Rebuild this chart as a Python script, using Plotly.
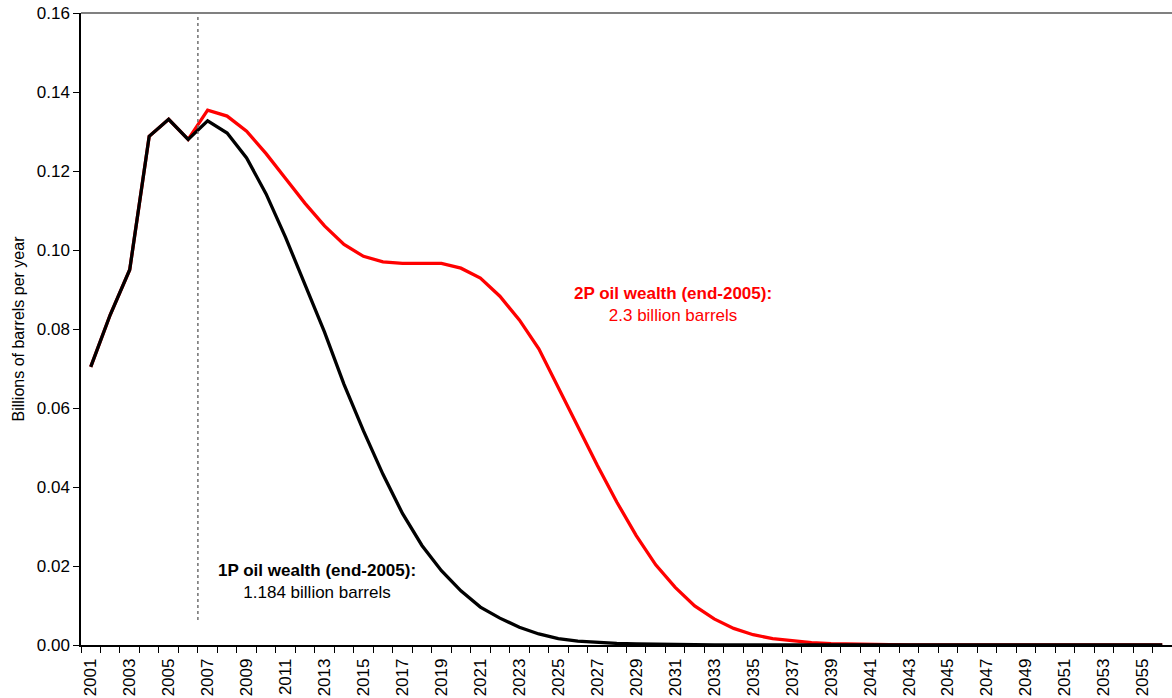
import plotly.graph_objects as go

# ---------------- data ----------------
years = list(range(2001, 2057))

oil_1p = [
    0.0704, 0.0836, 0.0950, 0.1288, 0.1331, 0.1280, 0.1327, 0.1296, 0.1233, 0.1142,
    0.1032, 0.0913, 0.0792, 0.0660, 0.0542, 0.0432, 0.0333, 0.0252, 0.0188, 0.0137,
    0.0096, 0.0068, 0.0045, 0.0028, 0.0016, 0.0010, 0.0006, 0.0004, 0.00025, 0.00015,
    0.00009, 0.00005, 0.00003, 0.00002, 0.00001, 0.000006, 0.000004, 0.000002, 0.000001, 0.000001,
    0.0, 0.0, 0.0, 0.0, 0.0, 0.0, 0.0, 0.0, 0.0, 0.0,
    0.0, 0.0, 0.0, 0.0, 0.0, 0.0,
]

oil_2p = [
    0.0704, 0.0836, 0.0950, 0.1288, 0.1331, 0.1280, 0.1354, 0.1339, 0.1301, 0.1244,
    0.1181, 0.1118, 0.1061, 0.1014, 0.0984, 0.0970, 0.0966, 0.0967, 0.0966, 0.0954,
    0.0929, 0.0883, 0.0823, 0.0750, 0.0652, 0.0555, 0.0455, 0.0362, 0.0277, 0.0203,
    0.0146, 0.0099, 0.0066, 0.0042, 0.0026, 0.0016, 0.0010, 0.0006, 0.00035, 0.0002,
    0.00012, 0.00007, 0.00004, 0.00002, 0.00001, 0.000006, 0.000003, 0.000002, 0.000001, 0.0,
    0.0, 0.0, 0.0, 0.0, 0.0, 0.0,
]

tick_years = list(range(2001, 2056, 2))
y_ticks = [0.00, 0.02, 0.04, 0.06, 0.08, 0.10, 0.12, 0.14, 0.16]

divider_year = 2006.5
divider_span = [0.0063, 0.16]

label_1p = ["1P oil wealth (end-2005):", "1.184 billion barrels"]
label_1p_pos = (2012.6, 0.0162)
label_2p = ["2P oil wealth (end-2005):", "2.3 billion barrels"]
label_2p_pos = (2030.9, 0.0863)

# ---------------- figure ----------------
FONT = "Arial, Liberation Sans, sans-serif"

fig = go.Figure()

fig.add_trace(go.Scatter(
    x=years, y=oil_2p, mode="lines",
    line=dict(color="#FF0000", width=3.3), name="2P", hoverinfo="x+y",
))
fig.add_trace(go.Scatter(
    x=years, y=oil_1p, mode="lines",
    line=dict(color="#000000", width=3.3), name="1P", hoverinfo="x+y",
))

# dashed divider
fig.add_trace(go.Scatter(
    x=[divider_year, divider_year], y=divider_span, mode="lines",
    line=dict(color="#707070", width=1.5, dash="dot"), hoverinfo="skip", showlegend=False,
))

fig.add_annotation(
    x=label_1p_pos[0], y=label_1p_pos[1], xref="x", yref="y",
    text="<b>" + label_1p[0] + "</b><br>" + label_1p[1],
    showarrow=False, align="center",
    font=dict(family=FONT, size=17, color="#000000"),
)
fig.add_annotation(
    x=label_2p_pos[0], y=label_2p_pos[1], xref="x", yref="y",
    text="<b>" + label_2p[0] + "</b><br>" + label_2p[1],
    showarrow=False, align="center",
    font=dict(family=FONT, size=17, color="#FF0000"),
)

# top border
fig.add_shape(type="line", xref="paper", yref="paper", x0=0, x1=1, y0=1, y1=1,
              line=dict(color="#808080", width=2))

fig.update_layout(
    width=1172, height=698,
    margin=dict(l=81, r=0, t=13, b=53, autoexpand=False),
    paper_bgcolor="white", plot_bgcolor="white",
    showlegend=False,
    font=dict(family=FONT, size=17, color="#000000"),
)

fig.update_xaxes(
    range=[years[0] - 0.5, years[-1] + 0.5],
    tickmode="array", tickvals=tick_years, ticktext=[str(t) for t in tick_years],
    tickangle=-90, ticks="", showgrid=False, zeroline=False, automargin=False,
    ticklabelstandoff=5,
    showline=True, linecolor="#000000", linewidth=1.5,
    tickfont=dict(family=FONT, size=17, color="#000000"),
    minor=dict(tick0=years[0] - 0.5, dtick=1, ticks="outside", ticklen=6,
               tickcolor="#000000", tickwidth=1, showgrid=False),
)

fig.update_yaxes(
    range=[0, 0.16], tickmode="array", tickvals=y_ticks,
    tickformat=".2f", ticks="outside", ticklen=6, tickcolor="#000000",
    showgrid=False, zeroline=False, automargin=False,
    showline=True, linecolor="#000000", linewidth=1.5,
    tickfont=dict(family=FONT, size=17, color="#000000"),
    title=dict(text="Billions of barrels per year", font=dict(family=FONT, size=16, color="#000000"),
               standoff=8),
)

fig.write_html(
    "out.html",
    config={"displayModeBar": False},
    post_script="document.body.style.margin='0';document.body.style.overflow='hidden';",
)
